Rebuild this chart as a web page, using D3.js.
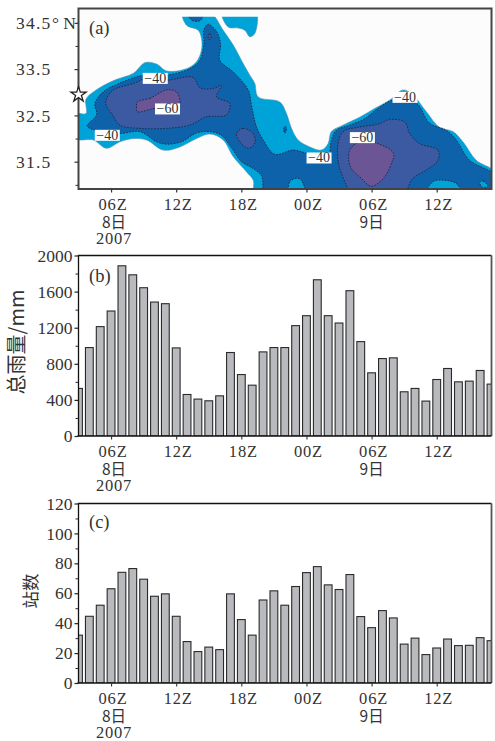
<!DOCTYPE html>
<html>
<head>
<meta charset="utf-8">
<script src="https://cdn.jsdelivr.net/npm/d3@7"></script>
<style>
html, body { margin: 0; padding: 0; background: #fff; }
svg { display: block; }
text { font-family: "Liberation Serif", serif; fill: #333; }
.cjk { font-family: "Noto Sans CJK SC", sans-serif; }
</style>
</head>
<body>
<div id="main"></div>
<script>
// hours since 00Z on the 8th
const hours = d3.range(3, 42);
const rainTotal = [527, 980, 1212, 1385, 1886, 1786, 1643, 1484, 1466, 976, 460, 409, 390, 445, 925, 681,
    563, 932, 980, 980, 1223, 1333, 1731, 1333, 1252, 1610, 1046, 700, 858, 866, 490, 527, 387, 626, 748, 600, 608, 726, 575];
const stationCount = [32, 44.6, 52, 63, 74, 76.5, 69.4, 58, 59.6, 44.6, 27.7, 21, 24, 22.3, 59.6, 42.4,
    32, 55.5, 61.6, 52, 64.5, 73.8, 77.8, 65.6, 62.5, 72.5, 44.4, 37, 48.4, 43.5, 26, 30, 19, 23.4, 29.4, 25, 25.2, 30.3, 28.3];

const timeTicks = [6, 12, 18, 24, 30, 36];
const timeLabels = ["06Z", "12Z", "18Z", "00Z", "06Z", "12Z"];
const latTicks = [34.5, 33.5, 32.5, 31.5];
const latMinor = [34, 33, 32, 31];
const rainTicks = [0, 400, 800, 1200, 1600, 2000];
const rainMinor = [200, 600, 1000, 1400, 1800];
const stationTicks = [0, 20, 40, 60, 80, 100, 120];
const stationMinor = [10, 30, 50, 70, 90, 110];

// contour outlines of panel (a), [hour, latitude]
const band30 = [
    [[2.8, 32.53], [3.69, 32.54], [3.69, 32.85], [4.5, 33.03], [6.2, 33.25], [8.05, 33.41], [9.12, 33.64], [10.19, 33.61],
     [11.11, 33.46], [12.95, 33.51], [13.87, 33.66], [14.33, 33.91], [14.33, 34.16], [14.03, 34.34], [12.95, 34.45], [12.59, 34.7],
     [13.8, 34.75], [15.25, 34.7], [16.33, 34.34], [17.25, 34.02], [18.17, 33.62], [18.78, 33.37], [19.24, 33.19], [19.55, 32.9],
     [21.54, 32.79], [22.16, 32.54], [22.62, 32.22], [23.23, 31.97], [24.3, 31.82], [25.38, 31.75], [25.99, 31.89], [26.3, 32.15],
     [27.37, 32.29], [28.9, 32.46], [30.28, 32.65], [31.66, 32.83], [32.9, 33.05], [33.81, 32.94], [35.04, 32.58], [36.27, 32.24],
     [37.49, 32.15], [38.41, 31.93], [39.64, 31.53], [41.3, 31.28], [41.3, 30.8], [30, 30.8], [19.3, 30.8], [19.1, 31.1],
     [18.48, 31.28], [17.25, 31.61], [16.33, 31.97], [15.1, 32.1], [13.87, 32.0], [12.34, 31.82], [10.81, 31.75], [9.27, 31.97],
     [8.05, 32.0], [6.82, 31.93], [5.59, 31.79], [4.37, 31.97], [2.8, 32.0]],
    [[16.2, 34.75], [16.79, 34.41], [17.71, 34.39], [18.32, 34.34], [18.78, 34.2], [19.24, 34.27], [19.35, 34.75], [17.8, 34.8]]
];
const band40 = [
    [[3.81, 32.27], [4.67, 32.51], [4.52, 32.76], [5.29, 33.01], [6.82, 33.2], [8.97, 33.37], [11.11, 33.37], [13.26, 33.51],
     [14.18, 33.69], [14.55, 34.05], [14.55, 34.34], [14.95, 34.47], [15.72, 34.31], [16.08, 34.05], [16.02, 33.69], [17.25, 33.44],
     [18.63, 33.05], [18.9, 32.76], [19.09, 32.54], [19.4, 32.25], [20.01, 31.97], [21.08, 31.66], [22.77, 31.75], [24.15, 31.68],
     [25.99, 31.66], [26.3, 31.97], [26.76, 32.18], [27.99, 32.29], [29.37, 32.43], [30.59, 32.65], [31.97, 32.83], [34.12, 32.76],
     [35.35, 32.33], [36.88, 32.18], [37.8, 31.97], [39.02, 31.53], [41.3, 31.21], [41.3, 30.8], [30, 30.8], [20.3, 30.8],
     [19.85, 31.2], [18.9, 31.38], [18.02, 31.5], [17.1, 31.8], [16.17, 32.07], [15.1, 32.15], [13.87, 32.12], [12.49, 31.93],
     [11.11, 31.88], [10.19, 31.93], [8.66, 32.15], [6.82, 32.11], [4.67, 32.17]],
    [[13.0, 34.72], [13.5, 34.55], [14.2, 34.55], [14.5, 34.72]],
    [[21.9, 32.2], [22.05, 32.27], [22.15, 32.18], [22.0, 32.12]]
];
const band50 = [
    [[5.53, 32.83], [6.2, 33.05], [8.05, 33.19], [9.27, 33.3], [11.11, 33.26], [13.57, 33.32], [14.18, 33.1], [15.41, 33.08],
     [16.17, 33.15], [15.72, 32.9], [16.94, 32.76], [16.63, 32.51], [14.79, 32.47], [13.26, 32.29], [11.11, 32.22], [8.66, 32.22],
     [6.82, 32.29], [6.05, 32.54], [5.59, 32.69]],
    [[17.56, 32.11], [18.17, 32.22], [19.09, 32.11], [19.24, 31.89], [18.63, 31.79], [17.86, 31.93]],
    [[26.91, 31.89], [27.37, 32.15], [28.9, 32.25], [30.59, 32.31], [31.66, 32.41], [33.05, 32.36], [33.51, 32.11], [34.43, 31.89],
     [36.12, 31.75], [36.12, 31.53], [35.04, 31.32], [33.81, 31.14], [32.9, 30.8], [30, 30.8], [28.3, 30.8], [27.22, 31.25], [26.91, 31.53]],
    [[14.95, 34.22], [15.1, 34.27], [15.2, 34.17], [15.0, 34.14]]
];
const band60 = [
    [[8.41, 32.79], [9.58, 32.87], [11.11, 33.05], [12.03, 33.01], [12.34, 32.76], [11.73, 32.65], [10.04, 32.65], [8.41, 32.58], [8.35, 32.69]],
    [[27.99, 31.75], [28.9, 31.93], [30.59, 31.89], [32.03, 31.68], [31.82, 31.46], [31.2, 31.17], [29.98, 30.97], [29.06, 31.14], [28.14, 31.35], [27.9, 31.53]]
];
const clearPatches = [
    [[22.46, 30.8], [22.46, 31.07], [23.07, 31.14], [23.53, 31.1], [23.84, 30.8]],
    [[35.04, 30.8], [35.65, 31.07], [36.57, 31.1], [37.8, 31.03], [38.26, 30.8]],
    [[39.95, 31.05], [40.3, 31.08], [40.7, 30.97], [40.2, 30.95]]
];
const contourLabels = ["−40", "−60", "−40", "−40", "−60", "−40"];
const contourLabelHours = [10.07, 11.2, 5.65, 25.16, 29.15, 33.08];
const contourLabelLats = [33.3, 32.64, 32.07, 31.58, 32.02, 32.89];
const DATA_TOP_LAT = 34.63;

const W = 495, H = 741;
const LEFT = 78.5, RIGHT = 491.5;

var svg = d3.select("#main").append("svg").attr("width", W).attr("height", H);
var x = d3.scaleLinear().domain([3, 41]).range([LEFT, RIGHT - 0.5]);
var defs = svg.append("defs");
defs.append("filter").attr("id", "soft")
    .append("feGaussianBlur").attr("stdDeviation", 0.45);

var addTimeAxis = function (g, yBase, tickLine) {
    var axis = g.append("g").attr("transform", "translate(0," + yBase + ")")
        .call(d3.axisBottom(x).tickValues(timeTicks).tickFormat("").tickSize(3.5).tickSizeOuter(0));
    axis.select(".domain").remove();
    axis.selectAll("line").attr("stroke", "#333").attr("stroke-width", tickLine);
    g.selectAll("text.time").data(timeTicks).enter().append("text")
        .attr("class", "time")
        .attr("x", d => x(d) + 2)
        .attr("y", yBase + 21)
        .attr("text-anchor", "middle")
        .attr("font-size", 16.5)
        .attr("letter-spacing", 0.8)
        .text((d, i) => timeLabels[i]);
    g.append("text").attr("class", "cjk").attr("x", x(6) + 3).attr("y", yBase + 39)
        .attr("text-anchor", "middle").attr("font-size", 15.5).text("8日");
    g.append("text").attr("class", "cjk").attr("x", x(30)).attr("y", yBase + 39)
        .attr("text-anchor", "middle").attr("font-size", 15.5).text("9日");
    g.append("text").attr("x", x(6) + 3).attr("y", yBase + 55)
        .attr("text-anchor", "middle").attr("font-size", 16.5).attr("letter-spacing", 0.8).text("2007");
};

var addLeftAxis = function (g, yScale, major, minor, fmt, frameColor) {
    var axis = g.append("g").attr("transform", "translate(" + LEFT + ",0)")
        .call(d3.axisLeft(yScale).tickValues(major).tickFormat(fmt).tickSize(4).tickSizeOuter(0));
    axis.select(".domain").remove();
    axis.selectAll("line").attr("stroke", frameColor).attr("stroke-width", 1.2);
    axis.selectAll("text")
        .attr("font-size", 17.5)
        .attr("font-family", "Liberation Serif")
        .attr("fill", "#333")
        .attr("x", -6);
    var axis2 = g.append("g").attr("transform", "translate(" + LEFT + ",0)")
        .call(d3.axisLeft(yScale).tickValues(minor).tickFormat("").tickSize(3).tickSizeOuter(0));
    axis2.select(".domain").remove();
    axis2.selectAll("line").attr("stroke", frameColor).attr("stroke-width", 1);
    return axis;
};

// panel (a)
var makeCloudPanel = function () {
    var top = 8.5, bottom = 189;
    var y = d3.scaleLinear().domain([30.91, 34.81]).range([bottom, top]);
    var g = svg.append("g").attr("id", "panelA");

    // the satellite field stops a little below the top of the frame
    defs.append("clipPath").attr("id", "clipA").append("rect")
        .attr("x", LEFT).attr("y", y(DATA_TOP_LAT)).attr("width", RIGHT - LEFT).attr("height", bottom - y(DATA_TOP_LAT));

    g.append("rect").attr("x", LEFT).attr("y", top).attr("width", RIGHT - LEFT).attr("height", bottom - top)
        .attr("fill", "#fcfcfc");

    var outline = d3.line()
        .x(d => x(d[0]))
        .y(d => y(d[1]))
        .curve(d3.curveCatmullRomClosed.alpha(0.5));

    var map = g.append("g").attr("clip-path", "url(#clipA)").append("g").attr("filter", "url(#soft)");
    var addBand = function (rings, color, dashed) {
        map.append("g").selectAll("path").data(rings).enter().append("path")
            .attr("d", outline)
            .attr("fill", color)
            .attr("stroke", dashed ? "#1c2c50" : "#4a8fb0")
            .attr("stroke-width", dashed ? 1 : 0.6)
            .attr("stroke-dasharray", dashed ? "1.6 1.4" : null);
    };
    addBand(band30, "#00a3d8", false);
    addBand(band40, "#1062a9", true);
    addBand(clearPatches, "#00a3d8", true);
    addBand(band50, "#3a5aa2", true);
    addBand(band60, "#6c5494", true);

    var labels = g.append("g").selectAll("g").data(contourLabels).enter().append("g")
        .attr("transform", (d, i) => "translate(" + x(contourLabelHours[i]) + "," + y(contourLabelLats[i]) + ")");
    labels.append("rect").attr("x", -12.5).attr("y", -5.5).attr("width", 25).attr("height", 11).attr("fill", "#fff");
    labels.append("text").attr("text-anchor", "middle").attr("y", 4.5).attr("font-size", 14).attr("fill", "#222").text(d => d);

    g.append("rect").attr("x", LEFT).attr("y", top).attr("width", RIGHT - LEFT).attr("height", bottom - top)
        .attr("fill", "none").attr("stroke", "#444").attr("stroke-width", 2);

    addTimeAxis(g, bottom, 1.2);
    var axis = addLeftAxis(g, y, latTicks, latMinor, d3.format(".1f"), "#333");
    axis.selectAll("text").attr("x", -27).attr("letter-spacing", 1.2);
    g.append("text").attr("x", 52).attr("y", y(34.5) + 6).attr("font-size", 17.5).text("° N");

    g.append("path")
        .attr("d", d3.symbol().type(d3.symbolStar).size(72)())
        .attr("transform", "translate(" + x(3) + "," + y(32.95) + ")")
        .attr("fill", "#fff").attr("stroke", "#222").attr("stroke-width", 1.3);

    g.append("text").attr("x", 89).attr("y", 34).attr("font-size", 18.5).text("(a)");
};

// panels (b) and (c)
var makeBarPanel = function (id, values, domainMax, top, bottom, major, minor, tag, tagY, yTitle, yTitleX, yTitleY, yTitleSize) {
    var y = d3.scaleLinear().domain([0, domainMax]).range([bottom, top]);
    var g = svg.append("g").attr("id", id);
    defs.append("clipPath").attr("id", "clip" + id).append("rect")
        .attr("x", LEFT).attr("y", top).attr("width", RIGHT - LEFT).attr("height", bottom - top);

    g.append("g").attr("clip-path", "url(#clip" + id + ")").selectAll("rect")
        .data(values).enter().append("rect")
        .attr("x", (d, i) => x(hours[i]) - 3.9)
        .attr("y", d => y(d))
        .attr("width", 7.8)
        .attr("height", d => y(0) - y(d))
        .attr("fill", "#b9babe")
        .attr("stroke", "#2a2a2a")
        .attr("stroke-width", 1.1);

    g.append("path").attr("d", d3.line()([[LEFT, bottom], [LEFT, top], [RIGHT, top]]))
        .attr("fill", "none").attr("stroke", "#111").attr("stroke-width", 1.3);
    g.append("path").attr("d", d3.line()([[RIGHT, top], [RIGHT, bottom]]))
        .attr("stroke", "#555").attr("stroke-width", 1.8);
    g.append("path").attr("d", d3.line()([[LEFT - 1, bottom], [RIGHT, bottom]]))
        .attr("stroke", "#111").attr("stroke-width", 1.4);

    addTimeAxis(g, bottom, 1.1);
    addLeftAxis(g, y, major, minor, d3.format("d"), "#222");

    g.append("text").attr("x", 89).attr("y", tagY).attr("font-size", 18.5).text(tag);
    g.append("text").attr("class", "cjk")
        .attr("transform", "translate(" + yTitleX + "," + yTitleY + ") rotate(-90)")
        .attr("text-anchor", "middle")
        .attr("font-size", yTitleSize)
        .text(yTitle);
};

makeCloudPanel();
makeBarPanel("panelB", rainTotal, 2000, 255.5, 436, rainTicks, rainMinor, "(b)", 282, "总雨量/mm", 24, 342, 20);
makeBarPanel("panelC", stationCount, 120, 503.5, 683, stationTicks, stationMinor, "(c)", 528, "站数", 37, 591, 17.5);
</script>
</body>
</html>
